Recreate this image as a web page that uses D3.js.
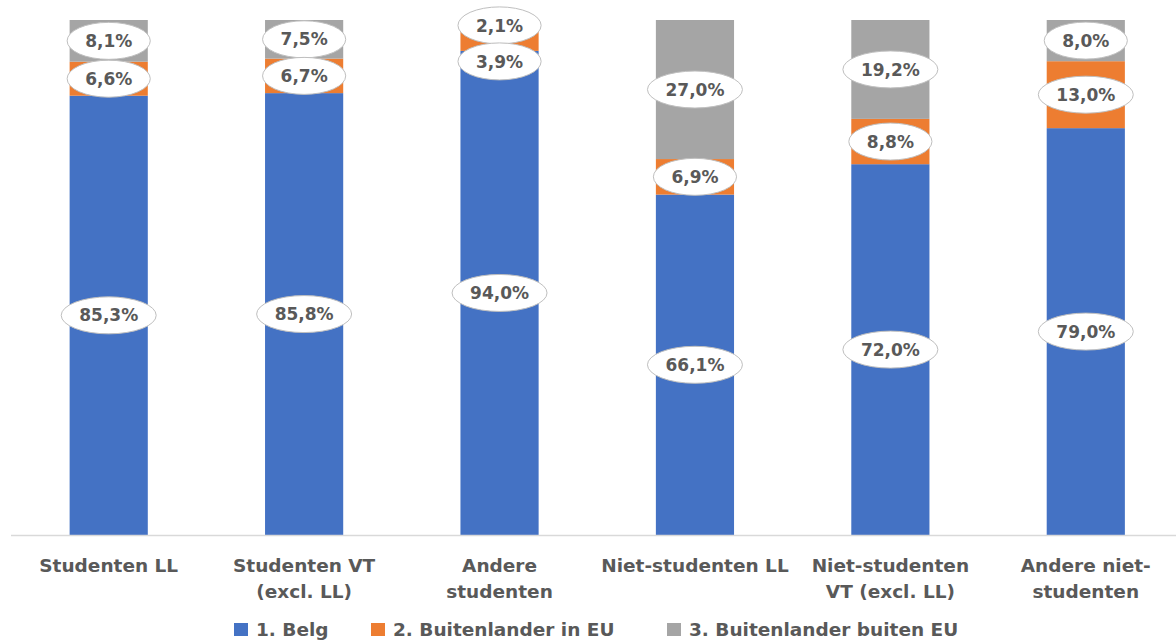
<!DOCTYPE html>
<html>
<head>
<meta charset="utf-8">
<script src="https://cdn.jsdelivr.net/npm/d3@7"></script>
<style>
  body { margin: 0; background: #fff; }
  text { font-family: "DejaVu Sans", sans-serif; font-weight: bold; fill: #595959; }
</style>
</head>
<body>
<svg id="chart"></svg>
<script>
var width = 1176;
var height = 640;

// categories, each split in the lines shown under the bar
var categories = [
    ["Studenten LL"],
    ["Studenten VT", "(excl. LL)"],
    ["Andere", "studenten"],
    ["Niet-studenten LL"],
    ["Niet-studenten", "VT (excl. LL)"],
    ["Andere niet-", "studenten"]
];
var seriesNames = ["1. Belg", "2. Buitenlander in EU", "3. Buitenlander buiten EU"];
var belg = [85.3, 85.8, 94.0, 66.1, 72.0, 79.0];
var eu = [6.6, 6.7, 3.9, 6.9, 8.8, 13.0];
var buitenEu = [8.1, 7.5, 2.1, 27.0, 19.2, 8.0];
var colors = ["#4472c4", "#ed7d31", "#a5a5a5"];

var plotTop = 20, plotBottom = 535;

var svg = d3.select("#chart")
    .attr("width", width)
    .attr("height", height);

var x = d3.scaleBand()
    .domain(d3.range(categories.length))
    .range([11, 1183.5])
    .paddingInner(0.6)
    .paddingOuter(0.3);

var y = d3.scaleLinear()
    .domain([0, 100])
    .range([plotBottom, plotTop]);

var rows = categories.map(function(c, i) {
    return { i: i, s0: belg[i], s1: eu[i], s2: buitenEu[i] };
});

var stack = d3.stack().keys(["s0", "s1", "s2"]);
var layers = stack(rows);

//bars
svg.selectAll("g.layer")
    .data(layers)
  .enter().append("g")
    .attr("class", "layer")
    .attr("fill", function(d, k) { return colors[k]; })
  .selectAll("rect")
    .data(function(d) { return d; })
  .enter().append("rect")
    .attr("x", function(d) { return x(d.data.i); })
    .attr("width", x.bandwidth())
    .attr("y", function(d) { return y(d[1]); })
    .attr("height", function(d) { return y(d[0]) - y(d[1]); });

//baseline
svg.append("line")
    .attr("x1", 11)
    .attr("x2", width)
    .attr("y1", plotBottom + 0.5)
    .attr("y2", plotBottom + 0.5)
    .attr("stroke", "#d9d9d9")
    .attr("stroke-width", 1.5);

//data labels, pushed down a bit where they would collide
var fmt = function(v) { return v.toFixed(1).replace(".", ",") + "%"; };
var gap = 36;
var labels = [];
rows.forEach(function(r) {
    var prev = -Infinity;
    for (var k = 2; k >= 0; k--) {
        var seg = layers[k][r.i];
        var cy = y((seg[0] + seg[1]) / 2);
        cy = Math.max(cy, prev + gap);
        prev = cy;
        labels.push({ i: r.i, cy: cy, text: fmt(seg[1] - seg[0]) });
    }
});

var lab = svg.selectAll("g.lab")
    .data(labels)
  .enter().append("g")
    .attr("class", "lab")
    .attr("transform", function(d) {
        return "translate(" + (x(d.i) + x.bandwidth() / 2) + "," + d.cy + ")";
    });

lab.append("ellipse")
    .attr("fill", "#fff")
    .attr("stroke", "#bfbfbf")
    .attr("stroke-width", 1);

lab.append("text")
    .attr("text-anchor", "middle")
    .attr("dy", "0.36em")
    .style("font-size", "17px")
    .text(function(d) { return d.text; });

lab.each(function() {
    var g = d3.select(this);
    var w = g.select("text").node().getComputedTextLength();
    g.select("ellipse").attr("rx", w / 2 + 18).attr("ry", 18.5);
});

//category labels
var cat = svg.selectAll("text.cat")
    .data(categories)
  .enter().append("text")
    .attr("class", "cat")
    .attr("text-anchor", "middle")
    .attr("x", function(d, i) { return x(i) + x.bandwidth() / 2; })
    .attr("y", 572)
    .style("font-size", "18.5px");

cat.selectAll("tspan")
    .data(function(d) { return d; })
  .enter().append("tspan")
    .attr("x", function() { return this.parentNode.getAttribute("x"); })
    .attr("dy", function(d, j) { return j === 0 ? 0 : 26; })
    .text(function(d) { return d; });

//legend
var legendX = [234, 371, 667];
var leg = svg.selectAll("g.leg")
    .data(seriesNames)
  .enter().append("g")
    .attr("class", "leg")
    .attr("transform", function(d, k) { return "translate(" + legendX[k] + ",623)"; });

leg.append("rect")
    .attr("width", 14)
    .attr("height", 13)
    .attr("fill", function(d, k) { return colors[k]; });

leg.append("text")
    .attr("x", 22)
    .attr("y", 12.5)
    .style("font-size", "18.5px")
    .text(function(d) { return d; });
</script>
</body>
</html>
